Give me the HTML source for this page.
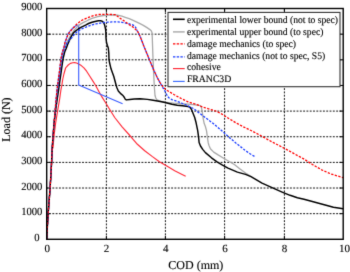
<!DOCTYPE html><html><head><meta charset="utf-8"><style>html,body{margin:0;padding:0;background:#fff;width:350px;height:272px;overflow:hidden}svg{display:block}text{font-family:"Liberation Serif",serif;fill:#000;stroke:#000;stroke-width:0.12px;text-rendering:geometricPrecision}</style></head><body>
<svg width="350" height="272" viewBox="0 0 350 272">
<defs><filter id="bl" x="0" y="0" width="350" height="272" filterUnits="userSpaceOnUse" color-interpolation-filters="sRGB"><feConvolveMatrix order="3" kernelMatrix="0.0100 0.0800 0.0100 0.0800 0.6400 0.0800 0.0100 0.0800 0.0100" edgeMode="duplicate"/></filter></defs><g filter="url(#bl)">
<rect width="350" height="272" fill="#fff"/>
<path d="M106.40 8.5V239.3 M165.40 8.5V239.3 M224.60 8.5V239.3 M284.40 8.5V239.3" stroke="#111" stroke-width="1" stroke-dasharray="1.9 1.4" stroke-dashoffset="2.85" fill="none"/>
<path d="M46.7 213.66H343.2 M46.7 188.02H343.2 M46.7 162.38H343.2 M46.7 136.74H343.2 M46.7 111.10H343.2 M46.7 85.46H343.2 M46.7 59.82H343.2 M46.7 34.18H343.2" stroke="#111" stroke-width="1" stroke-dasharray="1.9 1.4" stroke-dashoffset="0.95" fill="none"/>
<path d="M106.40 239.3v-3.5M106.40 8.5v3.5M165.40 239.3v-3.5M165.40 8.5v3.5M224.60 239.3v-3.5M224.60 8.5v3.5M284.40 239.3v-3.5M284.40 8.5v3.5M46.7 213.66h3.5M343.2 213.66h-3.5M46.7 188.02h3.5M343.2 188.02h-3.5M46.7 162.38h3.5M343.2 162.38h-3.5M46.7 136.74h3.5M343.2 136.74h-3.5M46.7 111.10h3.5M343.2 111.10h-3.5M46.7 85.46h3.5M343.2 85.46h-3.5M46.7 59.82h3.5M343.2 59.82h-3.5M46.7 34.18h3.5M343.2 34.18h-3.5" stroke="#000" stroke-width="1" fill="none"/>
<path d="M46.7 239.3 L47.4 226.0 L48.2 213.0 L49.2 200.0 L50.1 188.0 L50.9 175.0 L51.6 162.0 L52.2 148.0 L53.0 148.0 L53.9 137.0 L55.5 124.0 L57.6 111.0 L58.8 104.0 L59.8 98.0 L60.9 90.0 L61.9 85.0 L62.8 79.0 L63.9 74.0 L65.6 68.0 L67.0 66.3 L68.2 65.0 L70.4 63.4 L72.7 62.7 L74.6 62.6 L76.6 63.0 L78.6 64.0 L81.3 65.6 L83.9 67.9 L86.6 71.2 L89.5 75.8 L93.4 81.9 L95.2 84.8 L97.8 89.5 L100.5 94.5 L102.4 97.6 L106.1 103.5 L108.8 108.0 L114.7 117.5 L122.1 126.8 L129.4 135.0 L133.1 139.3 L137.4 144.3 L144.7 150.7 L152.1 156.4 L159.4 161.7 L166.8 166.1 L174.7 170.7 L182.1 174.4 L185.7 176.3" stroke="#ff2a38" stroke-width="1.15" fill="none" stroke-linejoin="round"/>
<path d="M46.7 239.3 L47.4 226.0 L48.2 213.0 L49.2 200.0 L50.1 188.0 L50.9 175.0 L51.6 162.0 L52.2 148.0 L53.0 137.0 L54.0 124.0 L55.0 111.0 L56.2 98.0 L57.0 90.0 L58.0 82.0 L59.1 74.0 L60.1 66.0 L61.1 58.0 L62.4 52.0 L63.8 48.0 L65.1 42.0 L66.6 38.0 L68.1 33.8 L67.8 34.2 L69.4 31.8 L71.0 30.0 L73.0 28.0 L75.1 26.3 L77.0 25.3 L78.7 25.2 L78.7 85.1 L122.6 103.7" stroke="#3a5cff" stroke-width="1.1" fill="none" stroke-linejoin="round"/>
<path d="M46.7 239.3 L47.4 226.0 L48.2 213.0 L49.2 200.0 L50.1 188.0 L50.9 175.0 L51.6 162.0 L52.2 148.0 L53.0 137.0 L54.0 124.0 L55.3 111.0 L56.8 98.0 L57.8 90.0 L59.0 82.0 L60.0 74.0 L60.8 66.0 L61.8 58.0 L63.3 52.0 L64.8 48.1 L66.4 43.3 L68.0 40.1 L69.6 37.2 L71.1 34.9 L72.8 32.5 L74.2 30.2 L75.8 28.3 L77.5 26.3 L80.6 24.1 L82.7 22.9 L85.2 21.7 L88.0 20.2 L92.0 18.4 L97.7 16.7 L103.4 15.5 L108.0 15.1 L112.0 15.0 L115.3 14.9 L118.6 15.3 L121.9 16.2 L125.2 17.3 L129.2 18.6 L132.6 20.1 L137.9 22.7 L140.0 23.7 L143.3 25.4 L146.6 27.4 L149.9 29.6 L151.4 31.0 L152.1 33.0 L152.3 38.0 L152.9 56.0 L153.6 72.0 L154.3 86.0 L155.0 95.5 L155.8 98.0 L157.0 99.8 L159.3 100.9 L163.7 101.8 L168.0 102.6 L173.4 103.2 L182.5 103.8 L188.0 104.2 L195.4 104.9 L200.3 105.6 L201.3 107.0 L202.0 110.3 L203.1 118.0 L204.2 123.6 L205.4 126.5 L206.5 130.6 L207.4 137.2 L208.2 142.7 L209.0 145.5 L210.4 148.8 L213.7 152.1 L218.1 154.9 L223.6 158.2 L229.2 161.5 L234.7 164.8 L240.0 168.9 L245.5 173.1 L251.0 176.6" stroke="#a8a8a8" stroke-width="1.3" fill="none" stroke-linejoin="round"/>
<path d="M46.7 239.3 L47.4 226.0 L48.2 213.0 L49.2 200.0 L50.1 188.0 L50.9 175.0 L51.6 162.0 L52.2 148.0 L53.0 137.0 L54.0 124.0 L55.5 111.0 L57.4 98.0 L58.6 90.0 L59.7 82.0 L60.9 74.0 L62.0 66.0 L63.2 58.0 L64.7 52.0 L66.3 48.3 L68.0 43.6 L69.4 40.4 L70.8 37.4 L72.4 34.7 L73.6 32.7 L75.1 31.3 L78.2 29.0 L81.3 27.2 L84.0 25.9 L86.0 24.9 L88.5 23.5 L92.0 22.3 L95.0 21.5 L98.4 20.8 L100.7 20.7 L102.5 21.4 L103.6 22.6 L104.5 24.6 L105.1 27.0 L105.6 29.5 L105.9 33.0 L106.0 38.0 L106.5 42.5 L107.3 45.3 L108.3 48.0 L108.8 53.0 L109.0 59.4 L109.5 62.5 L111.0 68.8 L113.8 76.5 L115.8 84.0 L116.8 87.5 L118.3 91.0 L121.0 93.9 L123.2 95.8 L124.4 97.5 L125.1 99.0 L126.3 99.9 L129.8 99.5 L134.3 99.0 L140.0 98.7 L147.4 99.4 L153.1 100.3 L158.9 101.3 L164.0 102.3 L168.0 103.2 L171.9 104.2 L177.2 105.2 L182.5 105.8 L188.0 106.5 L189.7 107.0 L191.4 109.2 L193.0 113.2 L194.7 117.5 L196.1 122.8 L197.7 130.6 L198.6 137.2 L199.1 142.5 L200.5 146.0 L202.7 149.4 L205.4 152.6 L211.5 157.8 L217.0 161.8 L222.5 165.2 L228.0 168.1 L237.4 172.1 L245.5 174.4 L251.0 176.6 L256.5 179.9 L262.0 183.2 L269.8 186.7 L275.4 189.2 L282.7 192.3 L290.1 195.3 L297.4 197.8 L304.0 199.3 L311.4 201.2 L318.7 203.2 L326.1 205.2 L333.4 207.3 L343.2 208.8" stroke="#000" stroke-width="1.45" fill="none" stroke-linejoin="round"/>
<path d="M46.7 239.3 L47.4 226.0 L48.2 213.0 L49.2 200.0 L50.1 188.0 L50.9 175.0 L51.6 162.0 L52.2 148.0 L53.0 137.0 L54.0 124.0 L55.3 111.0 L56.6 98.0 L57.5 90.0 L58.6 82.0 L59.8 74.0 L60.9 66.0 L62.1 58.0 L63.4 52.0 L64.9 48.1 L66.9 43.3 L68.9 40.5 L70.6 38.9 L72.2 37.2 L73.8 35.2 L75.6 33.1 L77.7 31.2 L81.3 29.0 L84.0 27.9 L86.7 26.8 L91.5 25.1 L96.0 23.9 L98.9 23.3 L101.9 22.8 L107.8 22.2 L112.0 21.9 L118.0 21.8 L121.9 22.3 L125.9 23.1 L129.3 23.9 L132.6 24.8 L134.6 25.8 L135.9 27.8 L136.9 30.2 L138.4 33.0 L139.6 35.2 L141.5 39.9 L144.3 47.3 L147.7 55.5 L151.0 63.5 L154.3 71.3 L157.5 78.0 L160.5 83.5 L163.3 88.3 L164.8 90.8 L166.6 94.5 L168.6 97.6 L171.9 99.6 L175.9 100.9 L179.9 102.3 L182.5 103.5 L188.0 105.8 L193.6 108.6 L197.0 111.3 L202.5 115.5 L208.0 119.6 L213.6 123.8 L221.4 130.4 L228.7 137.0 L236.1 143.2 L244.7 150.0 L250.0 153.8 L254.7 156.5" stroke="#1a3cff" stroke-width="1.3" stroke-dasharray="2.3 1.4" fill="none" stroke-linejoin="round"/>
<path d="M46.7 239.3 L47.4 226.0 L48.2 213.0 L49.2 200.0 L50.1 188.0 L50.9 175.0 L51.6 162.0 L52.2 148.0 L53.0 137.0 L54.0 124.0 L55.0 111.0 L56.2 98.0 L57.0 90.0 L58.0 82.0 L59.1 74.0 L60.1 66.0 L61.1 58.0 L62.4 52.0 L63.8 48.0 L65.1 42.1 L66.6 38.3 L68.1 34.3 L69.7 32.1 L71.3 30.2 L73.5 27.7 L75.5 25.4 L77.9 23.2 L81.5 20.5 L85.1 18.8 L88.5 17.4 L92.0 16.1 L95.4 15.2 L98.9 14.5 L102.3 14.3 L105.7 14.4 L110.0 14.4 L115.0 14.6 L116.3 15.4 L118.5 17.0 L120.3 18.4 L123.6 20.6 L126.2 22.5 L129.3 24.7 L132.6 26.8 L135.9 29.6 L137.9 31.9 L139.6 35.2 L141.5 39.9 L144.3 47.3 L147.7 55.5 L151.0 63.5 L154.3 71.3 L157.5 78.0 L160.5 83.5 L163.5 87.6 L167.3 90.5 L170.6 92.5 L173.9 94.5 L177.2 96.4 L181.2 98.5 L188.0 101.8 L193.6 103.6 L197.0 104.7 L202.5 106.9 L208.0 108.7 L215.8 111.0 L221.4 113.8 L228.7 118.5 L236.1 122.9 L243.4 126.8 L253.0 131.5 L259.2 134.8 L268.4 139.9 L277.6 144.8 L286.8 149.6 L294.0 153.6 L303.2 158.6 L312.4 164.5 L321.6 169.8 L330.8 173.9 L343.2 177.7" stroke="#ff0000" stroke-width="1.3" stroke-dasharray="2.3 1.4" fill="none" stroke-linejoin="round"/>
<rect x="46.7" y="8.5" width="296.5" height="230.8" fill="none" stroke="#000" stroke-width="1.4"/>
<text x="39.6" y="240.80" font-size="11" text-anchor="end" textLength="5.3" lengthAdjust="spacingAndGlyphs">0</text>
<text x="42.4" y="215.16" font-size="11" text-anchor="end" textLength="21.2" lengthAdjust="spacingAndGlyphs">1000</text>
<text x="42.4" y="189.52" font-size="11" text-anchor="end" textLength="21.2" lengthAdjust="spacingAndGlyphs">2000</text>
<text x="42.4" y="163.88" font-size="11" text-anchor="end" textLength="21.2" lengthAdjust="spacingAndGlyphs">3000</text>
<text x="42.4" y="138.24" font-size="11" text-anchor="end" textLength="21.2" lengthAdjust="spacingAndGlyphs">4000</text>
<text x="42.4" y="112.60" font-size="11" text-anchor="end" textLength="21.2" lengthAdjust="spacingAndGlyphs">5000</text>
<text x="42.4" y="86.96" font-size="11" text-anchor="end" textLength="21.2" lengthAdjust="spacingAndGlyphs">6000</text>
<text x="42.4" y="61.32" font-size="11" text-anchor="end" textLength="21.2" lengthAdjust="spacingAndGlyphs">7000</text>
<text x="42.4" y="35.68" font-size="11" text-anchor="end" textLength="21.2" lengthAdjust="spacingAndGlyphs">8000</text>
<text x="42.4" y="10.04" font-size="11" text-anchor="end" textLength="21.2" lengthAdjust="spacingAndGlyphs">9000</text>
<text x="47.20" y="252" font-size="11" text-anchor="middle">0</text>
<text x="106.50" y="252" font-size="11" text-anchor="middle">2</text>
<text x="165.80" y="252" font-size="11" text-anchor="middle">4</text>
<text x="225.10" y="252" font-size="11" text-anchor="middle">6</text>
<text x="284.40" y="252" font-size="11" text-anchor="middle">8</text>
<text x="344.50" y="252" font-size="11" text-anchor="middle">10</text>
<text x="195.8" y="268.7" font-size="12" text-anchor="middle">COD (mm)</text>
<text transform="translate(10,119.6) rotate(-90)" x="0" y="0" font-size="12" text-anchor="middle">Load (N)</text>
<rect x="168" y="12.4" width="172" height="74.3" fill="#fff" stroke="#333" stroke-width="1.1"/>
<path d="M173 19.30H184.7" stroke="#000" stroke-width="1.6" fill="none"/>
<text x="186.9" y="22.80" font-size="10" textLength="151.1" lengthAdjust="spacingAndGlyphs">experimental lower bound (not to spec)</text>
<path d="M173 31.90H184.7" stroke="#a8a8a8" stroke-width="1.4" fill="none"/>
<text x="186.9" y="34.80" font-size="10" textLength="136.5" lengthAdjust="spacingAndGlyphs">experimental upper bound (to spec)</text>
<path d="M173 43.80H184.7" stroke="#f00" stroke-width="1.3" stroke-dasharray="2.4 1.3" fill="none"/>
<text x="186.9" y="46.80" font-size="10" textLength="109.2" lengthAdjust="spacingAndGlyphs">damage mechanics (to spec)</text>
<path d="M173 56.80H184.7" stroke="#1a3cff" stroke-width="1.3" stroke-dasharray="2.4 1.3" fill="none"/>
<text x="186.9" y="59.30" font-size="10" textLength="138.3" lengthAdjust="spacingAndGlyphs">damage mechanics (not to spec, S5)</text>
<path d="M173 68.60H184.7" stroke="#ff2a38" stroke-width="1.15" fill="none"/>
<text x="186.9" y="70.30" font-size="10" textLength="34.0" lengthAdjust="spacingAndGlyphs">cohesive</text>
<path d="M173 81.40H184.7" stroke="#36f" stroke-width="1.1" fill="none"/>
<text x="186.9" y="82.30" font-size="10" textLength="44.4" lengthAdjust="spacingAndGlyphs">FRANC3D</text>
</g></svg></body></html>
